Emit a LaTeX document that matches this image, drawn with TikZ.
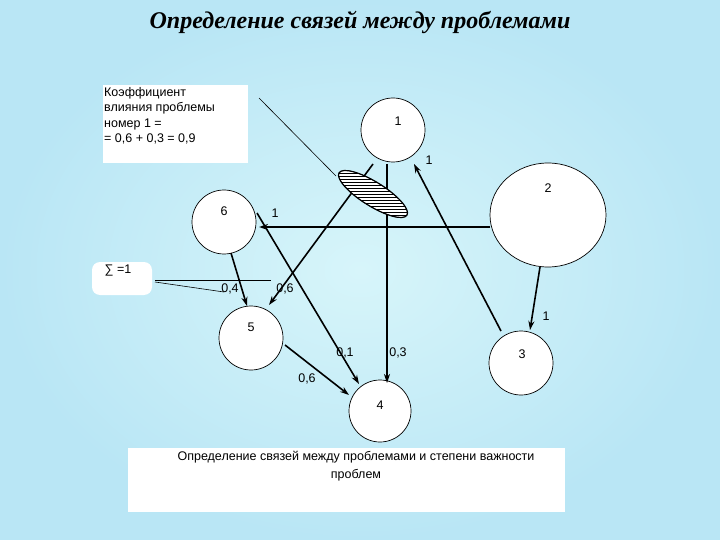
\documentclass[tikz,border=0pt]{standalone}
\usepackage{fontspec}
\setmainfont{Liberation Sans}
\newfontfamily\titlefont{Liberation Serif}
\usetikzlibrary{arrows.meta,patterns,shapes.geometric}
\definecolor{bgin}{RGB}{215,245,250}
\definecolor{bgout}{RGB}{185,230,245}
\begin{document}
\begin{tikzpicture}[x=1pt,y=-1pt,
  prob/.style={circle,draw,fill=white,minimum size=64pt,inner sep=0pt,line width=0.7pt},
  arr/.style={-{Stealth[length=9pt,width=6pt]},line width=1.6pt},
  thin/.style={line width=0.6pt},
  lbl/.style={font=\fontsize{12.5}{14}\selectfont,inner sep=0pt}]
\useasboundingbox (0,0) rectangle (720,540);
\shade[inner color=bgin, outer color=bgout] (0,0) rectangle (720,540);
\node[font=\titlefont\bfseries\itshape\fontsize{24}{28}\selectfont] (title) at (360,22) {Определение связей между проблемами};
% callout box
\fill[white] (103,85) rectangle (248,163);
\node[lbl,anchor=north west,align=left,font=\fontsize{12.5}{15.5}\selectfont] (coef) at (104,87) {Коэффициент\\влияния проблемы\\номер 1 =\\= 0,6 + 0,3 = 0,9};
% sum box
\fill[white,rounded corners=8pt] (92,262) rectangle (152,295);
\node[lbl] (sum) at (118,271) {∑ =1};
% bottom box
\fill[white] (128,448) rectangle (565,512);
\node[lbl,align=center,font=\fontsize{12.5}{18}\selectfont] (cap) at (356,466) {Определение связей между проблемами и степени важности\\проблем};
% nodes
\node[prob] (n1) at (393,130) {};
\node[prob,minimum width=116pt,minimum height=104pt,ellipse] (n2) at (548,215) {};
\node[prob] (n6) at (224,222) {};
\node[prob] (n5) at (251,338) {};
\node[prob,minimum size=62pt] (n4) at (380,411) {};
\node[prob] (n3) at (521,363) {};
\node[lbl] at (398,121) {1};
\node[lbl] at (548,188) {2};
\node[lbl] at (224,211) {6};
\node[lbl] at (251,327) {5};
\node[lbl] at (380,405) {4};
\node[lbl] at (522,354) {3};
% edges
\coordinate (a1) at (373,164); \coordinate (a2) at (387,164);
\draw[arr] (a1) -- (269,305);
\draw[arr,line width=1.1pt] (a2) -- (387,383);
\coordinate (w2) at (490,227);
\draw[arr,line width=2pt] (w2) -- (259,227);
\coordinate (b6) at (257,213);
\draw[arr] (b6) -- (359,384);
\draw[arr] (231,253) -- (247,306);
\draw[arr] (285,345) -- (349,395);
\draw[arr] (540,267) -- (530,330);
\draw[arr] (501,331) -- (414,164);
% hatched ellipse
\node[ellipse,draw,fill=white,minimum width=80pt,minimum height=24pt,rotate=-32] at (373,194) {};
\node[ellipse,draw,pattern=horizontal lines,minimum width=80pt,minimum height=24pt,rotate=-32,line width=1.2pt] (hat) at (373,194) {};
% callout lines
\coordinate (c1) at (259,98); \coordinate (c2) at (336,176);
\draw[thin] (c1) -- (c2);
\coordinate (s1) at (155,280); \coordinate (s2) at (271,280); \coordinate (s3) at (224,292);
\draw[thin] (s1) -- (s2);
\draw[thin] (155,282) -- (s3);
% labels
\node[lbl] at (429,160) {1};
\node[lbl] at (275,213) {1};
\node[lbl] at (230,289) {0,4};
\node[lbl] at (285,289) {0,6};
\node[lbl] at (345,353) {0,1};
\node[lbl] at (398,353) {0,3};
\node[lbl] at (307,379) {0,6};
\node[lbl] at (546,316) {1};
\end{tikzpicture}
\end{document}
